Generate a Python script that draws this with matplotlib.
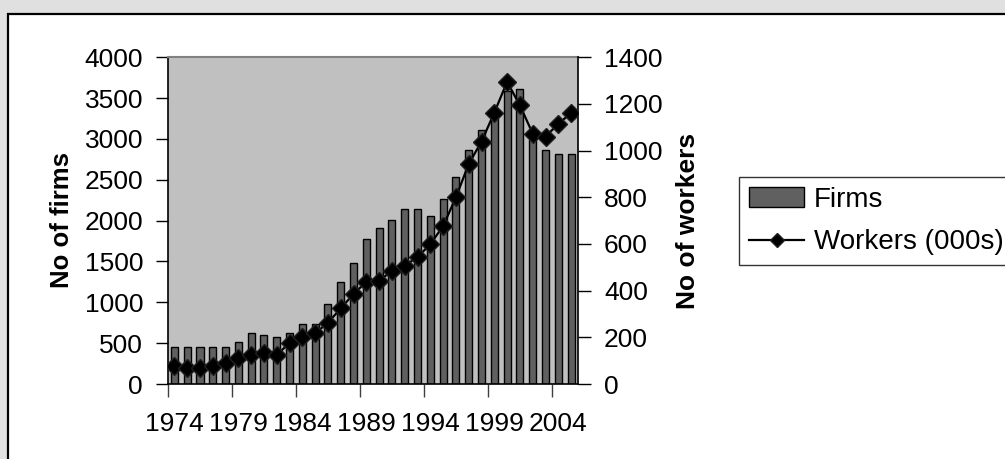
import matplotlib
matplotlib.use("Agg")
import matplotlib.pyplot as plt
from matplotlib.patches import Rectangle
import numpy as np

years = list(range(1974, 2006))
firms = [450, 450, 450, 450, 450, 520, 620, 600, 580, 620,
         730, 730, 980, 1250, 1480, 1780, 1905, 2010, 2140, 2140,
         2060, 2260, 2540, 2870, 3110, 3350, 3590, 3610, 2990, 2870,
         2810, 2810]
workers = [78, 68, 68, 76, 90, 113, 124, 131, 124, 177,
           200, 217, 263, 324, 386, 438, 441, 486, 507, 544,
           599, 677, 800, 943, 1039, 1163, 1295, 1194, 1073, 1060,
           1115, 1161]
left_ticks = [0, 500, 1000, 1500, 2000, 2500, 3000, 3500, 4000]
right_ticks = [0, 200, 400, 600, 800, 1000, 1200, 1400]
label_years = [1974, 1979, 1984, 1989, 1994, 1999, 2004]

plt.rcParams['font.family'] = ['Liberation Sans', 'DejaVu Sans']

W, H = 1005, 459
fig = plt.figure(figsize=(W / 100, H / 100), dpi=100)
fig.patch.set_facecolor('#e0e0e0')

# white chart area with black border
fig.add_artist(Rectangle((8 / W, -0.1), 1.2, 1 - 14 / H + 0.1,
                         transform=fig.transFigure, facecolor='white',
                         edgecolor='black', linewidth=1.6, zorder=0))

ax = fig.add_axes([168 / W, 1 - 384 / H, (577.5 - 168) / W, (384 - 57.3) / H])
ax.set_facecolor('#c0c0c0')
x = np.arange(len(years))
bars = ax.bar(x, firms, width=0.55, color='#606060', edgecolor='black',
              linewidth=1.0, label='Firms', zorder=2)
ax.set_xlim(-0.5, len(years) - 0.5)
ax.set_ylim(0, 4000)
ax.set_yticks(left_ticks)
ax.tick_params(axis='y', labelsize=19, length=9, width=1, direction='out', pad=9)

# x: tick marks at category boundaries, labels at category centers
ax.set_xticks(np.arange(-0.5, len(years), 5))
ax.set_xticklabels([])
ax.tick_params(axis='x', which='major', length=9, width=1, color='#404040')
lab_pos = [years.index(y) for y in label_years]
ax.set_xticks(lab_pos, minor=True)
ax.set_xticklabels([str(y) for y in label_years], minor=True)
ax.tick_params(axis='x', which='minor', length=0, labelsize=19, pad=20)

for s in ['left', 'bottom']:
    ax.spines[s].set_color('black')
    ax.spines[s].set_linewidth(1.2)
ax.spines['top'].set_color('#808080')
ax.spines['top'].set_linewidth(1.5)
ax.spines['right'].set_visible(False)

ax2 = ax.twinx()
line, = ax2.plot(x, workers, color='black', linewidth=1.6, marker='D',
                 markersize=9, markerfacecolor='black',
                 markeredgecolor='#202020', label='Workers (000s)', zorder=3)
ax2.set_ylim(0, 1400)
ax2.set_yticks(right_ticks)
ax2.tick_params(axis='y', labelsize=19, length=9, width=1, direction='out', pad=10)
for s in ['left', 'top', 'bottom']:
    ax2.spines[s].set_visible(False)
ax2.spines['right'].set_color('black')
ax2.spines['right'].set_linewidth(1.2)

fig.text(62 / W, 1 - 220.5 / H, 'No of firms', rotation=90, ha='center',
         va='center', fontsize=18.5, fontweight='bold')
fig.text(688 / W, 1 - 220.5 / H, 'No of workers', rotation=90, ha='center',
         va='center', fontsize=19, fontweight='bold')

leg = fig.legend([bars, line], ['Firms', 'Workers (000s)'], loc='upper left',
                 bbox_to_anchor=(739 / W, 1 - 177 / H), borderaxespad=0,
                 fontsize=20, frameon=True, fancybox=False, edgecolor='black',
                 handlelength=2.0, handletextpad=0.35, borderpad=0.35,
                 labelspacing=0.6)
leg.get_frame().set_linewidth(1.0)
for h in leg.legend_handles:
    if hasattr(h, 'set_markersize'):
        h.set_markersize(7)

fig.savefig('out.png', dpi=100, facecolor=fig.get_facecolor())
